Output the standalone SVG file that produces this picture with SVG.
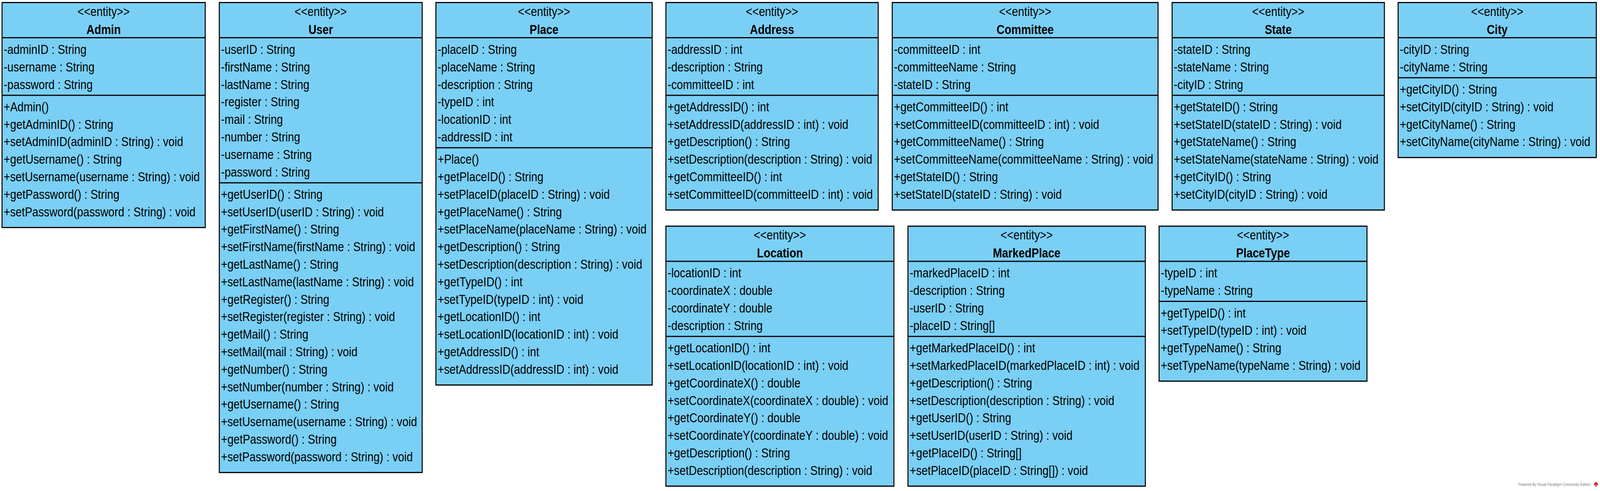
<svg xmlns="http://www.w3.org/2000/svg" width="4779" height="1257" viewBox="0 0 4779 1257" preserveAspectRatio="none">
<style>
svg{max-width:100vw;max-height:100vh}
.box{fill:#7ACFF5;stroke:#000;stroke-width:3}
.sep{stroke:#000;stroke-width:3}
text{font-family:"Liberation Sans",Arial,Helvetica,sans-serif;font-size:33px;fill:#000}
.c{text-anchor:middle}
.b{font-weight:bold}
.wm{font-size:10px;fill:#808080}
</style>
<rect x="0" y="0" width="4779" height="1257" fill="#fff"/>

<g id="Admin" transform="translate(6,6.5)">
<rect class="box" x="0" y="0" width="607" height="576"/>
<line class="sep" x1="0" y1="90" x2="607" y2="90"/>
<line class="sep" x1="0" y1="237.4" x2="607" y2="237.4"/>
<text class="c" x="303.5" y="34.5">&lt;&lt;entity&gt;&gt;</text>
<text class="c b" x="303.5" y="80.5">Admin</text>
<text x="5" y="131.5">-adminID : String</text>
<text x="5" y="176.3">-username : String</text>
<text x="5" y="221.1">-password : String</text>
<text x="5" y="278.4">+Admin()</text>
<text x="5" y="323.2">+getAdminID() : String</text>
<text x="5" y="368">+setAdminID(adminID : String) : void</text>
<text x="5" y="412.8">+getUsername() : String</text>
<text x="5" y="457.6">+setUsername(username : String) : void</text>
<text x="5" y="502.4">+getPassword() : String</text>
<text x="5" y="547.2">+setPassword(password : String) : void</text>
</g>

<g id="User" transform="translate(655,6.5)">
<rect class="box" x="0" y="0" width="606" height="1203.2"/>
<line class="sep" x1="0" y1="90" x2="606" y2="90"/>
<line class="sep" x1="0" y1="461.4" x2="606" y2="461.4"/>
<text class="c" x="303" y="34.5">&lt;&lt;entity&gt;&gt;</text>
<text class="c b" x="303" y="80.5">User</text>
<text x="5" y="131.5">-userID : String</text>
<text x="5" y="176.3">-firstName : String</text>
<text x="5" y="221.1">-lastName : String</text>
<text x="5" y="265.9">-register : String</text>
<text x="5" y="310.7">-mail : String</text>
<text x="5" y="355.5">-number : String</text>
<text x="5" y="400.3">-username : String</text>
<text x="5" y="445.1">-password : String</text>
<text x="5" y="502.4">+getUserID() : String</text>
<text x="5" y="547.2">+setUserID(userID : String) : void</text>
<text x="5" y="592">+getFirstName() : String</text>
<text x="5" y="636.8">+setFirstName(firstName : String) : void</text>
<text x="5" y="681.6">+getLastName() : String</text>
<text x="5" y="726.4">+setLastName(lastName : String) : void</text>
<text x="5" y="771.2">+getRegister() : String</text>
<text x="5" y="816">+setRegister(register : String) : void</text>
<text x="5" y="860.8">+getMail() : String</text>
<text x="5" y="905.6">+setMail(mail : String) : void</text>
<text x="5" y="950.4">+getNumber() : String</text>
<text x="5" y="995.2">+setNumber(number : String) : void</text>
<text x="5" y="1040">+getUsername() : String</text>
<text x="5" y="1084.8">+setUsername(username : String) : void</text>
<text x="5" y="1129.6">+getPassword() : String</text>
<text x="5" y="1174.4">+setPassword(password : String) : void</text>
</g>

<g id="Place" transform="translate(1302,6.5)">
<rect class="box" x="0" y="0" width="646" height="979.2"/>
<line class="sep" x1="0" y1="90" x2="646" y2="90"/>
<line class="sep" x1="0" y1="371.8" x2="646" y2="371.8"/>
<text class="c" x="323" y="34.5">&lt;&lt;entity&gt;&gt;</text>
<text class="c b" x="323" y="80.5">Place</text>
<text x="5" y="131.5">-placeID : String</text>
<text x="5" y="176.3">-placeName : String</text>
<text x="5" y="221.1">-description : String</text>
<text x="5" y="265.9">-typeID : int</text>
<text x="5" y="310.7">-locationID : int</text>
<text x="5" y="355.5">-addressID : int</text>
<text x="5" y="412.8">+Place()</text>
<text x="5" y="457.6">+getPlaceID() : String</text>
<text x="5" y="502.4">+setPlaceID(placeID : String) : void</text>
<text x="5" y="547.2">+getPlaceName() : String</text>
<text x="5" y="592">+setPlaceName(placeName : String) : void</text>
<text x="5" y="636.8">+getDescription() : String</text>
<text x="5" y="681.6">+setDescription(description : String) : void</text>
<text x="5" y="726.4">+getTypeID() : int</text>
<text x="5" y="771.2">+setTypeID(typeID : int) : void</text>
<text x="5" y="816">+getLocationID() : int</text>
<text x="5" y="860.8">+setLocationID(locationID : int) : void</text>
<text x="5" y="905.6">+getAddressID() : int</text>
<text x="5" y="950.4">+setAddressID(addressID : int) : void</text>
</g>

<g id="Address" transform="translate(1989,6.5)">
<rect class="box" x="0" y="0" width="634" height="531.2"/>
<line class="sep" x1="0" y1="90" x2="634" y2="90"/>
<line class="sep" x1="0" y1="237.4" x2="634" y2="237.4"/>
<text class="c" x="317" y="34.5">&lt;&lt;entity&gt;&gt;</text>
<text class="c b" x="317" y="80.5">Address</text>
<text x="5" y="131.5">-addressID : int</text>
<text x="5" y="176.3">-description : String</text>
<text x="5" y="221.1">-committeeID : int</text>
<text x="5" y="278.4">+getAddressID() : int</text>
<text x="5" y="323.2">+setAddressID(addressID : int) : void</text>
<text x="5" y="368">+getDescription() : String</text>
<text x="5" y="412.8">+setDescription(description : String) : void</text>
<text x="5" y="457.6">+getCommitteeID() : int</text>
<text x="5" y="502.4">+setCommitteeID(committeeID : int) : void</text>
</g>

<g id="Committee" transform="translate(2665,6.5)">
<rect class="box" x="0" y="0" width="794" height="531.2"/>
<line class="sep" x1="0" y1="90" x2="794" y2="90"/>
<line class="sep" x1="0" y1="237.4" x2="794" y2="237.4"/>
<text class="c" x="397" y="34.5">&lt;&lt;entity&gt;&gt;</text>
<text class="c b" x="397" y="80.5">Committee</text>
<text x="5" y="131.5">-committeeID : int</text>
<text x="5" y="176.3">-committeeName : String</text>
<text x="5" y="221.1">-stateID : String</text>
<text x="5" y="278.4">+getCommitteeID() : int</text>
<text x="5" y="323.2">+setCommitteeID(committeeID : int) : void</text>
<text x="5" y="368">+getCommitteeName() : String</text>
<text x="5" y="412.8">+setCommitteeName(committeeName : String) : void</text>
<text x="5" y="457.6">+getStateID() : String</text>
<text x="5" y="502.4">+setStateID(stateID : String) : void</text>
</g>

<g id="State" transform="translate(3501,6.5)">
<rect class="box" x="0" y="0" width="634" height="531.2"/>
<line class="sep" x1="0" y1="90" x2="634" y2="90"/>
<line class="sep" x1="0" y1="237.4" x2="634" y2="237.4"/>
<text class="c" x="317" y="34.5">&lt;&lt;entity&gt;&gt;</text>
<text class="c b" x="317" y="80.5">State</text>
<text x="5" y="131.5">-stateID : String</text>
<text x="5" y="176.3">-stateName : String</text>
<text x="5" y="221.1">-cityID : String</text>
<text x="5" y="278.4">+getStateID() : String</text>
<text x="5" y="323.2">+setStateID(stateID : String) : void</text>
<text x="5" y="368">+getStateName() : String</text>
<text x="5" y="412.8">+setStateName(stateName : String) : void</text>
<text x="5" y="457.6">+getCityID() : String</text>
<text x="5" y="502.4">+setCityID(cityID : String) : void</text>
</g>

<g id="City" transform="translate(4176,6.5)">
<rect class="box" x="0" y="0" width="592" height="396.8"/>
<line class="sep" x1="0" y1="90" x2="592" y2="90"/>
<line class="sep" x1="0" y1="192.6" x2="592" y2="192.6"/>
<text class="c" x="296" y="34.5">&lt;&lt;entity&gt;&gt;</text>
<text class="c b" x="296" y="80.5">City</text>
<text x="5" y="131.5">-cityID : String</text>
<text x="5" y="176.3">-cityName : String</text>
<text x="5" y="233.6">+getCityID() : String</text>
<text x="5" y="278.4">+setCityID(cityID : String) : void</text>
<text x="5" y="323.2">+getCityName() : String</text>
<text x="5" y="368">+setCityName(cityName : String) : void</text>
</g>

<g id="Location" transform="translate(1989,579)">
<rect class="box" x="0" y="0" width="681" height="665.6"/>
<line class="sep" x1="0" y1="90" x2="681" y2="90"/>
<line class="sep" x1="0" y1="282.2" x2="681" y2="282.2"/>
<text class="c" x="340.5" y="34.5">&lt;&lt;entity&gt;&gt;</text>
<text class="c b" x="340.5" y="80.5">Location</text>
<text x="5" y="131.5">-locationID : int</text>
<text x="5" y="176.3">-coordinateX : double</text>
<text x="5" y="221.1">-coordinateY : double</text>
<text x="5" y="265.9">-description : String</text>
<text x="5" y="323.2">+getLocationID() : int</text>
<text x="5" y="368">+setLocationID(locationID : int) : void</text>
<text x="5" y="412.8">+getCoordinateX() : double</text>
<text x="5" y="457.6">+setCoordinateX(coordinateX : double) : void</text>
<text x="5" y="502.4">+getCoordinateY() : double</text>
<text x="5" y="547.2">+setCoordinateY(coordinateY : double) : void</text>
<text x="5" y="592">+getDescription() : String</text>
<text x="5" y="636.8">+setDescription(description : String) : void</text>
</g>

<g id="MarkedPlace" transform="translate(2712,579)">
<rect class="box" x="0" y="0" width="709" height="665.6"/>
<line class="sep" x1="0" y1="90" x2="709" y2="90"/>
<line class="sep" x1="0" y1="282.2" x2="709" y2="282.2"/>
<text class="c" x="354.5" y="34.5">&lt;&lt;entity&gt;&gt;</text>
<text class="c b" x="354.5" y="80.5">MarkedPlace</text>
<text x="5" y="131.5">-markedPlaceID : int</text>
<text x="5" y="176.3">-description : String</text>
<text x="5" y="221.1">-userID : String</text>
<text x="5" y="265.9">-placeID : String[]</text>
<text x="5" y="323.2">+getMarkedPlaceID() : int</text>
<text x="5" y="368">+setMarkedPlaceID(markedPlaceID : int) : void</text>
<text x="5" y="412.8">+getDescription() : String</text>
<text x="5" y="457.6">+setDescription(description : String) : void</text>
<text x="5" y="502.4">+getUserID() : String</text>
<text x="5" y="547.2">+setUserID(userID : String) : void</text>
<text x="5" y="592">+getPlaceID() : String[]</text>
<text x="5" y="636.8">+setPlaceID(placeID : String[]) : void</text>
</g>

<g id="PlaceType" transform="translate(3462,579)">
<rect class="box" x="0" y="0" width="621" height="396.8"/>
<line class="sep" x1="0" y1="90" x2="621" y2="90"/>
<line class="sep" x1="0" y1="192.6" x2="621" y2="192.6"/>
<text class="c" x="310.5" y="34.5">&lt;&lt;entity&gt;&gt;</text>
<text class="c b" x="310.5" y="80.5">PlaceType</text>
<text x="5" y="131.5">-typeID : int</text>
<text x="5" y="176.3">-typeName : String</text>
<text x="5" y="233.6">+getTypeID() : int</text>
<text x="5" y="278.4">+setTypeID(typeID : int) : void</text>
<text x="5" y="323.2">+getTypeName() : String</text>
<text x="5" y="368">+setTypeName(typeName : String) : void</text>
</g>

<g id="connectors"></g>

<g id="watermark">
<text class="wm" x="4535" y="1244">Powered By Visual Paradigm Community Edition</text>
<polygon points="4767,1233 4774,1240 4767,1247 4760,1240" fill="#d8262f"/>
<line x1="4762" y1="1242" x2="4772" y2="1242" stroke="#fff" stroke-width="0.8"/>
<line x1="4764" y1="1244.5" x2="4770" y2="1244.5" stroke="#fff" stroke-width="0.8"/>
</g>
</svg>
